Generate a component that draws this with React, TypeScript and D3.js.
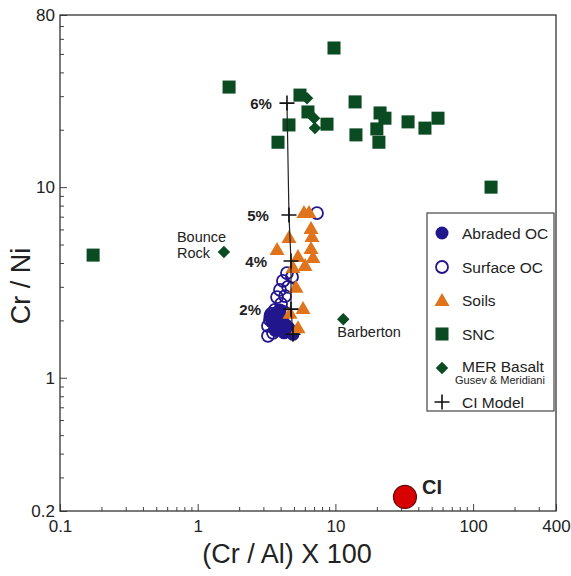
// App.tsx

import React, { useEffect, useRef } from 'react';
import * as d3 from 'd3';

// [Cr/Al x100, Cr/Ni]
const abradedOC = [
  [3.7, 2.19], [4.1, 2.06], [3.46, 1.96], [3.83, 1.87], [4.38, 1.89], [4.24, 1.72],
  [4.92, 1.69], [4.6, 1.82], [3.96, 2.27], [3.64, 1.78], [3.35, 2.11], [4.0, 2.0],
];
const surfaceOC = [
  [7.35, 7.31], [4.45, 3.54], [4.84, 3.38], [4.16, 3.22], [4.53, 3.0], [3.96, 2.89],
  [4.31, 2.68], [3.77, 2.65], [4.03, 2.44], [3.64, 2.27], [3.41, 2.16], [3.35, 2.01],
  [3.24, 1.87], [3.24, 1.66], [3.7, 1.78], [4.1, 2.01], [4.24, 2.21], [3.52, 1.72],
];
const soils = [
  [5.91, 7.4], [6.43, 7.4], [6.65, 6.1], [6.76, 5.54], [6.65, 4.8], [6.88, 4.3],
  [4.6, 5.47], [3.77, 4.73], [5.35, 4.35], [6.02, 3.9], [4.92, 3.81], [5.17, 3.0],
  [5.82, 2.32], [4.68, 2.19], [5.35, 1.84],
];
const snc = [
  [0.174, 4.4], [1.69, 33.5], [3.83, 17.2], [4.6, 21.2], [5.53, 30.4], [6.32, 24.8],
  [8.69, 21.4], [9.77, 53.7], [13.9, 28], [14.1, 18.8], [21.1, 24.5], [22.9, 23],
  [20.0, 20.2], [20.7, 17.2], [33.7, 22], [44.7, 20.4], [55.6, 23], [135, 10.0],
];
const merBasalt = [[6.22, 29.3], [7.0, 23], [7.1, 20.4], [1.55, 4.57], [11.4, 2.03]];
const merNames = ['', '', '', 'Bounce Rock', 'Barberton'];
const ciModel = [[4.45, 27.6], [4.6, 7.14], [4.76, 4.1], [4.76, 2.29], [4.92, 1.69]];
const ciModelLabels = ['6%', '5%', '4%', '2%', ''];
const ciModelLabelDx = [15, 20, 24, 30, 0];
const ciChondrite = [32.0, 0.237];

const xTicks = [0.1, 1, 10, 100, 400];
const xTickLabels = ['0.1', '1', '10', '100', '400'];
const yTicks = [0.2, 1, 10, 80];
const yTickLabels = ['0.2', '1', '10', '80'];

const NAVY = '#22168c';
const ORANGE = '#e0741c';
const GREEN = '#0b4b22';
const FONT = 'Liberation Sans, Arial, sans-serif';

const App = () => {
  const svgRef = useRef(null);

  useEffect(() => {
    const svg = d3.select(svgRef.current);
    svg.selectAll('*').remove();

    const left = 60, right = 556, top = 15, bottom = 511;
    const x = d3.scaleLog().domain([0.1, 400]).range([left, right]);
    const y = d3.scaleLog().domain([0.2, 80]).range([bottom, top]);

    const xMinor = x.ticks().filter((d) => !xTicks.includes(d) && d < 400);
    const yMinor = y.ticks().filter((d) => !yTicks.includes(d) && d < 80 && d > 0.2);

    const styleAxis = (g) => {
      g.select('.domain').remove();
      g.selectAll('line').attr('stroke', '#444').attr('stroke-width', 1);
      g.selectAll('text').attr('font-family', FONT).attr('font-size', 17).attr('fill', '#222');
    };

    svg.append('g').attr('transform', `translate(0,${bottom})`)
      .call(d3.axisBottom(x).tickValues(xTicks).tickFormat((d, i) => xTickLabels[i]).tickSizeInner(-7).tickSizeOuter(0).tickPadding(9))
      .call(styleAxis);
    svg.append('g').attr('transform', `translate(0,${bottom})`)
      .call(d3.axisBottom(x).tickValues(xMinor).tickFormat(() => '').tickSizeInner(-4).tickSizeOuter(0))
      .call(styleAxis);
    svg.append('g').attr('transform', `translate(${left},0)`)
      .call(d3.axisLeft(y).tickValues(yTicks).tickFormat((d, i) => yTickLabels[i]).tickSizeInner(-7).tickSizeOuter(0).tickPadding(5))
      .call(styleAxis);
    svg.append('g').attr('transform', `translate(${left},0)`)
      .call(d3.axisLeft(y).tickValues(yMinor).tickFormat(() => '').tickSizeInner(-4).tickSizeOuter(0))
      .call(styleAxis);

    svg.append('rect')
      .attr('x', left).attr('y', top).attr('width', right - left).attr('height', bottom - top)
      .attr('fill', 'none').attr('stroke', '#333').attr('stroke-width', 1.3);

    // axis titles
    svg.append('text')
      .attr('transform', 'translate(30,286) rotate(-90)')
      .attr('text-anchor', 'middle').attr('font-family', FONT).attr('font-size', 27).attr('fill', '#222')
      .text('Cr / Ni');
    svg.append('text')
      .attr('x', 287).attr('y', 563)
      .attr('text-anchor', 'middle').attr('font-family', FONT).attr('font-size', 27).attr('fill', '#222')
      .text('(Cr / Al) X 100');

    const square = d3.symbol().type(d3.symbolSquare).size(170);
    const diamond = d3.symbol().type(d3.symbolSquare).size(78);
    const triangle = 'M0,-7L7.5,6L-7.5,6Z';

    // SNC
    svg.append('g').selectAll('path').data(snc).enter().append('path')
      .attr('d', square)
      .attr('transform', (d) => `translate(${x(d[0])},${y(d[1])})`)
      .attr('fill', GREEN);

    // MER basalt
    svg.append('g').selectAll('path').data(merBasalt).enter().append('path')
      .attr('d', diamond)
      .attr('transform', (d) => `translate(${x(d[0])},${y(d[1])}) rotate(45)`)
      .attr('fill', GREEN);

    const lbl = { family: FONT, size: 14.5 };
    svg.append('text').attr('x', x(merBasalt[3][0]) - 47).attr('y', y(merBasalt[3][1]) - 10)
      .attr('font-family', lbl.family).attr('font-size', lbl.size).attr('fill', '#222').text(merNames[3].split(' ')[0]);
    svg.append('text').attr('x', x(merBasalt[3][0]) - 47).attr('y', y(merBasalt[3][1]) + 6)
      .attr('font-family', lbl.family).attr('font-size', lbl.size).attr('fill', '#222').text(merNames[3].split(' ')[1]);
    svg.append('text').attr('x', x(merBasalt[4][0]) - 6).attr('y', y(merBasalt[4][1]) + 18)
      .attr('font-family', lbl.family).attr('font-size', lbl.size).attr('fill', '#222').text(merNames[4]);

    // Surface OC
    svg.append('g').selectAll('circle').data(surfaceOC).enter().append('circle')
      .attr('cx', (d) => x(d[0])).attr('cy', (d) => y(d[1])).attr('r', 6)
      .attr('fill', 'none').attr('stroke', NAVY).attr('stroke-width', 1.8);

    // Abraded OC
    svg.append('g').selectAll('circle').data(abradedOC).enter().append('circle')
      .attr('cx', (d) => x(d[0])).attr('cy', (d) => y(d[1])).attr('r', 6.5)
      .attr('fill', NAVY);

    // Soils
    svg.append('g').selectAll('path').data(soils).enter().append('path')
      .attr('d', triangle)
      .attr('transform', (d) => `translate(${x(d[0])},${y(d[1])})`)
      .attr('fill', ORANGE);

    // CI model
    svg.append('path')
      .datum(ciModel)
      .attr('d', d3.line().x((d) => x(d[0])).y((d) => y(d[1])))
      .attr('fill', 'none').attr('stroke', '#222').attr('stroke-width', 1.2);
    svg.append('g').selectAll('path').data(ciModel).enter().append('path')
      .attr('d', 'M-7.5,0H7.5M0,-7.5V7.5')
      .attr('transform', (d) => `translate(${x(d[0])},${y(d[1])})`)
      .attr('stroke', '#111').attr('stroke-width', 1.6);
    svg.append('g').selectAll('text').data(ciModel).enter().append('text')
      .attr('x', (d, i) => x(d[0]) - ciModelLabelDx[i])
      .attr('y', (d) => y(d[1]) + 6)
      .attr('text-anchor', 'end').attr('font-family', FONT).attr('font-size', 15).attr('font-weight', 'bold').attr('fill', '#222')
      .text((d, i) => ciModelLabels[i]);

    // CI chondrite
    svg.append('circle')
      .attr('cx', x(ciChondrite[0])).attr('cy', y(ciChondrite[1])).attr('r', 11.5)
      .attr('fill', '#d80000').attr('stroke', '#5a0a0a').attr('stroke-width', 1.2);
    svg.append('text')
      .attr('x', x(ciChondrite[0]) + 17).attr('y', y(ciChondrite[1]) - 3)
      .attr('font-family', FONT).attr('font-size', 20).attr('font-weight', 'bold').attr('fill', '#222')
      .text('CI');

    // legend
    const leg = svg.append('g');
    leg.append('rect').attr('x', 427).attr('y', 213).attr('width', 127).attr('height', 198)
      .attr('fill', 'white').attr('stroke', '#444').attr('stroke-width', 1.2);
    const items = ['Abraded OC', 'Surface OC', 'Soils', 'SNC', 'MER Basalt', 'CI Model'];
    const rowY = [233, 267, 300, 334, 366, 402];
    const sx = 442;
    items.forEach((name, i) => {
      const cy = rowY[i];
      if (i === 0) leg.append('circle').attr('cx', sx).attr('cy', cy).attr('r', 6.5).attr('fill', NAVY);
      if (i === 1) leg.append('circle').attr('cx', sx).attr('cy', cy).attr('r', 6).attr('fill', 'none').attr('stroke', NAVY).attr('stroke-width', 1.8);
      if (i === 2) leg.append('path').attr('d', triangle).attr('transform', `translate(${sx},${cy})`).attr('fill', ORANGE);
      if (i === 3) leg.append('path').attr('d', square).attr('transform', `translate(${sx},${cy})`).attr('fill', GREEN);
      if (i === 4) leg.append('path').attr('d', diamond).attr('transform', `translate(${sx},${cy + 2}) rotate(45)`).attr('fill', GREEN);
      if (i === 5) leg.append('path').attr('d', 'M-7.5,0H7.5M0,-7.5V7.5').attr('transform', `translate(${sx},${cy})`).attr('stroke', '#111').attr('stroke-width', 1.6);
      leg.append('text').attr('x', 462).attr('y', cy + 5.5)
        .attr('font-family', FONT).attr('font-size', 15.5).attr('fill', '#222').text(name);
    });
    leg.append('text').attr('x', 455).attr('y', 384)
      .attr('font-family', FONT).attr('font-size', 11).attr('fill', '#222').text('Gusev & Meridiani');
  }, []);

  return (
    <svg
      ref={svgRef}
      width={571}
      height={576}
      style={{ position: 'absolute', left: 0, top: 0, background: 'white' }}
    ></svg>
  );
};

export default App;
